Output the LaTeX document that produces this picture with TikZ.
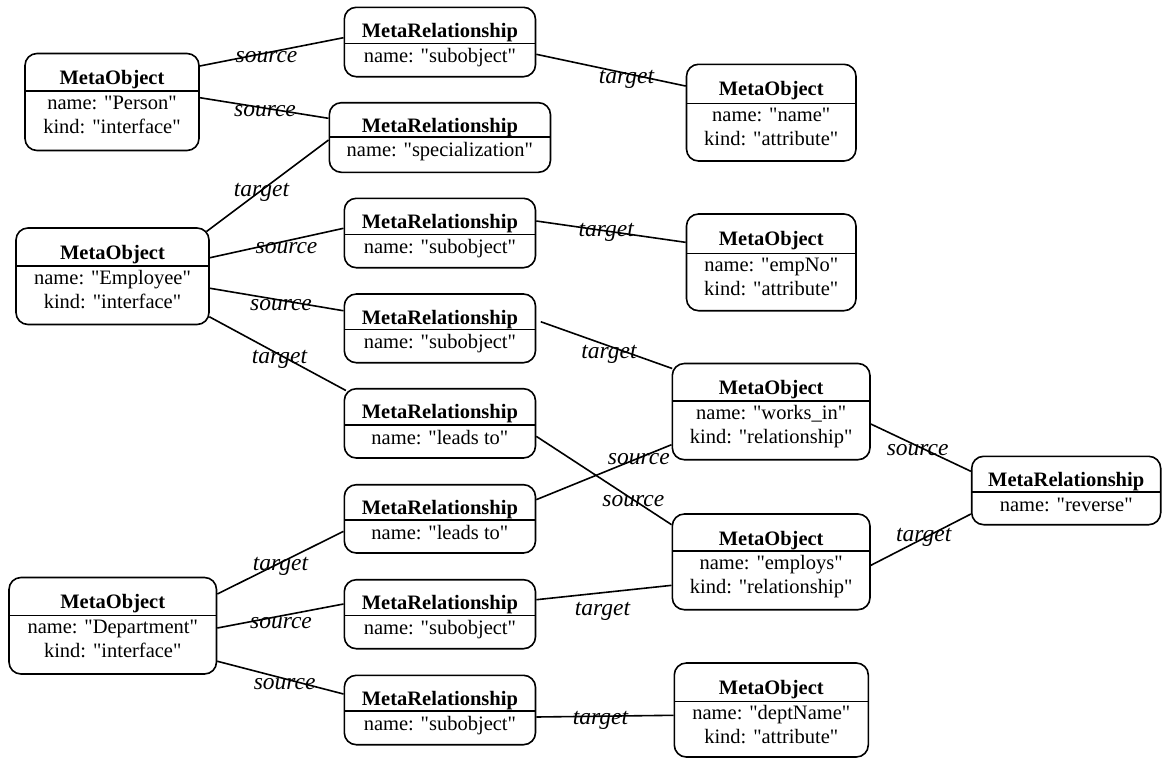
\documentclass[tikz,border=0pt]{standalone}
\usepackage{fontspec}
\setmainfont{Liberation Serif}[Ligatures=TeXOff]
\tikzset{
  box/.style={draw, line width=1.6pt, rounded corners=12pt, fill=white, inner sep=0pt},
  hdr/.style={anchor=base, inner sep=0pt, font=\fontsize{20.5}{24}\selectfont\bfseries},
  body/.style={anchor=base, inner sep=0pt, font=\fontsize{20.5}{24}\selectfont},
  lbl/.style={anchor=base, inner sep=0pt, font=\fontsize{23.5}{27}\selectfont\itshape},
  conn/.style={line width=1.6pt},
  divline/.style={line width=1.6pt},
}
% id, left, top, right, bottom, divider, name, kind
\newcommand\MObox[8]{%
  \pgfmathsetmacro\cx{(#2+#4)/2}%
  \pgfmathsetmacro\cy{(#3+#5)/2}%
  \pgfmathsetmacro\bw{#4-#2}%
  \pgfmathsetmacro\bh{#5-#3}%
  \node[box, minimum width=\bw pt, minimum height=\bh pt] (#1) at (\cx,\cy) {};
  \draw[divline] (#2,#6) -- (#4,#6);
  \node[hdr] (#1-h) at (\cx,#3+31) {MetaObject};
  \node[body] (#1-n) at (\cx,#6+18.5) {name: "#7"};
  \node[body] (#1-k) at (\cx,#6+42.5) {kind: "#8"};
}
% id, left, top, right, bottom, divider, name
\newcommand\MRbox[7]{%
  \pgfmathsetmacro\cx{(#2+#4)/2}%
  \pgfmathsetmacro\cy{(#3+#5)/2}%
  \pgfmathsetmacro\bw{#4-#2}%
  \pgfmathsetmacro\bh{#5-#3}%
  \node[box, minimum width=\bw pt, minimum height=\bh pt] (#1) at (\cx,\cy) {};
  \draw[divline] (#2,#6) -- (#4,#6);
  \node[hdr] (#1-h) at (\cx,#3+30) {MetaRelationship};
  \node[body] (#1-n) at (\cx,#6+19.5) {name: "#7"};
}
\begin{document}
\begin{tikzpicture}[x=1pt,y=-1pt]
\useasboundingbox (0,0) rectangle (1162,758);
% MetaObjects
\MObox{person}{25}{53.5}{199}{150.5}{91}{Person}{interface}
\MObox{employee}{16}{228}{209}{324.5}{266}{Employee}{interface}
\MObox{dept}{9}{577.5}{216.5}{674}{615.3}{Department}{interface}
\MObox{oname}{686.5}{64.3}{856}{161}{103.3}{name}{attribute}
\MObox{empno}{686.5}{214}{856}{310.7}{253.3}{empNo}{attribute}
\MObox{worksin}{672.3}{363.5}{870}{459.7}{400.7}{works\_in}{relationship}
\MObox{employs}{672.3}{514}{870}{609.7}{550.7}{employs}{relationship}
\MObox{deptname}{674.3}{663}{868.3}{757}{701.3}{deptName}{attribute}
% MetaRelationships
\MRbox{sub1}{344.3}{7.3}{535.5}{76.7}{43.3}{subobject}
\MRbox{spec}{329.3}{102.7}{550.5}{172.3}{136.7}{specialization}
\MRbox{sub2}{344.3}{198.3}{535.5}{267.7}{234.3}{subobject}
\MRbox{sub3}{344.3}{294}{535.5}{362.7}{329.3}{subobject}
\MRbox{leads1}{344.3}{388.7}{535.5}{458}{424.7}{leads to}
\MRbox{leads2}{344.3}{484.7}{535.5}{553}{519.7}{leads to}
\MRbox{sub4}{344.3}{579.7}{535.5}{648.7}{615.3}{subobject}
\MRbox{sub5}{344.3}{675.3}{535.5}{744.7}{710.7}{subobject}
\MRbox{reverse}{971.7}{456.3}{1160.7}{524.7}{492}{reverse}
% connectors
\draw[conn] ([yshift=36pt]person.east) -- ([yshift=4.3pt]sub1.west);
\draw[conn] ([yshift=4.3pt]person.east) -- ([yshift=19.2pt]spec.west);
\draw[conn] ([yshift=-12.3pt]sub1.east) -- ([yshift=26.6pt]oname.west);
\draw[conn] ([xshift=-3.3pt,yshift=-4.3pt]employee.north east) -- ([yshift=-2.5pt]spec.west);
\draw[conn] ([yshift=18.5pt]employee.east) -- ([yshift=4.7pt]sub2.west);
\draw[conn] ([yshift=-12pt]employee.east) -- ([yshift=17.6pt]sub3.west);
\draw[conn] ([xshift=-0.5pt,yshift=-40.5pt]employee.east) -- ([xshift=2.4pt,yshift=-2.6pt]leads1.north west);
\draw[conn] ([yshift=12pt]sub2.east) -- ([yshift=20pt]empno.west);
\draw[conn] ([xshift=4.5pt,yshift=6.6pt]sub3.east) -- ([xshift=0.7pt,yshift=-5.8pt]worksin.north west);
\draw[conn] ([yshift=-13pt]leads1.east) -- ([yshift=37.2pt]employs.west);
\draw[conn] ([yshift=19.2pt]leads2.east) -- ([yshift=-33.1pt]worksin.west);
\draw[conn] ([yshift=31.75pt]dept.east) -- ([yshift=-12.5pt]leads2.west);
\draw[conn] ([yshift=-2.25pt]dept.east) -- ([yshift=10.2pt]sub4.west);
\draw[conn] ([yshift=-35.5pt]dept.east) -- ([yshift=16pt]sub5.west);
\draw[conn] ([yshift=14.5pt]sub4.east) -- ([yshift=-23.5pt]employs.west);
\draw[conn] ([yshift=-7pt]sub5.east) -- ([yshift=-5.3pt]deptname.west);
\draw[conn] ([yshift=-12.4pt]worksin.east) -- ([yshift=19.2pt]reverse.west);
\draw[conn] ([yshift=-3.5pt]employs.east) -- ([yshift=-23.5pt]reverse.west);
% labels
\node[lbl] (l1) at (266.5,62) {source};
\node[lbl] (l2) at (265,116.5) {source};
\node[lbl] (l3) at (626.5,83) {target};
\node[lbl] (l4) at (261.5,196) {target};
\node[lbl] (l5) at (286.5,253) {source};
\node[lbl] (l6) at (281,310) {source};
\node[lbl] (l7) at (279.5,363) {target};
\node[lbl] (l8) at (606.3,236) {target};
\node[lbl] (l9) at (609,358) {target};
\node[lbl] (l10) at (633.3,506) {source};
\node[lbl] (l11) at (638.8,464.7) {source};
\node[lbl] (l12) at (280.5,570.7) {target};
\node[lbl] (l13) at (281,628) {source};
\node[lbl] (l14) at (284.7,689) {source};
\node[lbl] (l15) at (602.5,615) {target};
\node[lbl] (l16) at (600.5,724.7) {target};
\node[lbl] (l17) at (917.7,455.3) {source};
\node[lbl] (l18) at (923.8,541.3) {target};
\end{tikzpicture}
\end{document}
